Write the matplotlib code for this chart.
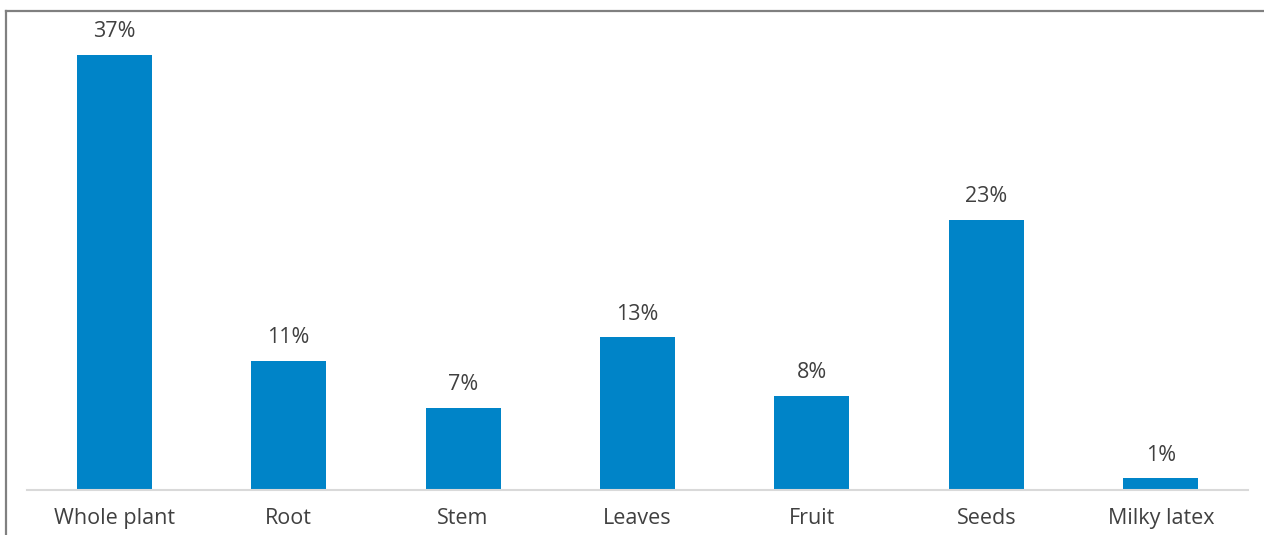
import matplotlib.pyplot as plt
from matplotlib.lines import Line2D
import numpy as np

# data
parts = ['Whole plant', 'Root', 'Stem', 'Leaves', 'Fruit', 'Seeds', 'Milky latex']
share = [37, 11, 7, 13, 8, 23, 1]

plt.rcParams['font.family'] = ['Open Sans', 'DejaVu Sans']

fig = plt.figure(figsize=(12.64, 5.35), dpi=100)
W, H = 1264, 535
ax = fig.add_axes([27 / W, 1 - 490 / H, (1248 - 27) / W, (490 - 15) / H])

x = np.arange(len(parts))
bars = ax.bar(x, share, width=0.43, color='#0084C8', zorder=2)
for b, v in zip(bars, share):
    ax.annotate(f'{v}%', (b.get_x() + b.get_width() / 2, v), xytext=(0, 9),
                textcoords='offset points', ha='center', va='bottom',
                fontsize=15.5, color='#404040')

ax.set_xlim(-0.5, len(parts) - 0.5)
ax.set_ylim(0, 475 / 11.76)
ax.set_xticks(x)
ax.set_xticklabels(parts, fontsize=15.5, color='#404040')
ax.tick_params(axis='x', length=0, pad=13)
ax.set_yticks([])
for s in ['top', 'right', 'left']:
    ax.spines[s].set_visible(False)
ax.spines['bottom'].set_color('#D9D9D9')
ax.spines['bottom'].set_linewidth(1.5)

# cropped outer frame (top and left edges only)
fig.add_artist(Line2D([5.5 / W, 1], [1 - 10.5 / H, 1 - 10.5 / H],
                      transform=fig.transFigure, color='#808080', lw=1.6))
fig.add_artist(Line2D([5.5 / W, 5.5 / W], [0, 1 - 10.5 / H],
                      transform=fig.transFigure, color='#808080', lw=1.6))

fig.savefig('out.png', dpi=100)
